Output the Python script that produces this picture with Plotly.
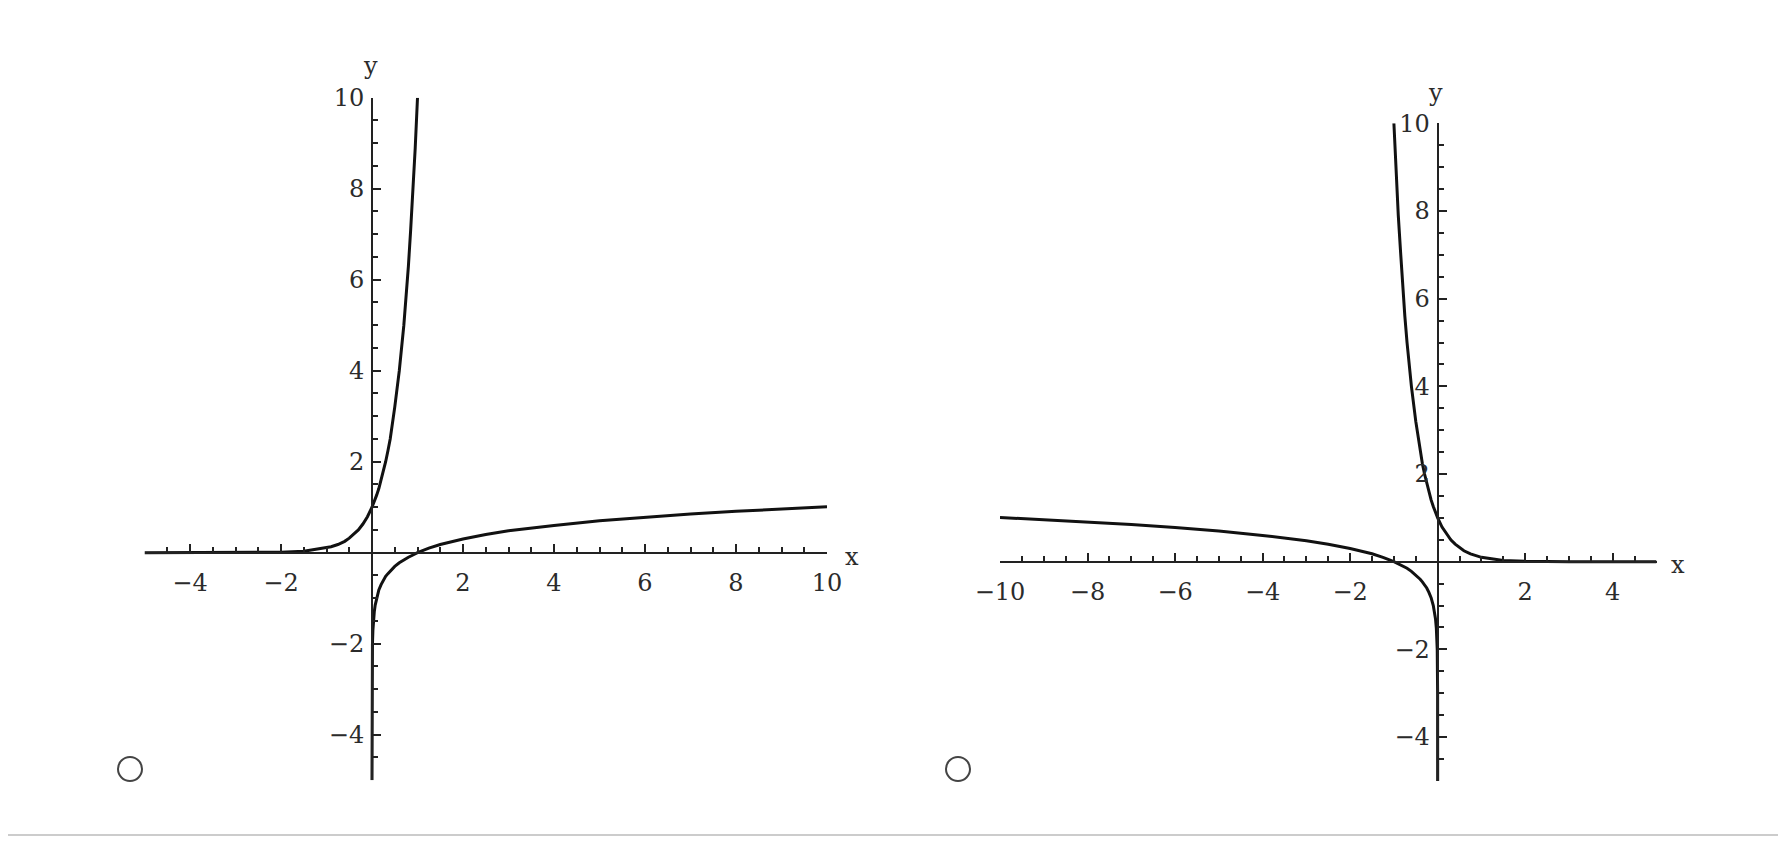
import plotly.graph_objects as go

# Left panel: exponential and logarithm curves
exp_x = [-5, -4, -3, -2, -1.5, -1, -0.9, -0.75, -0.6, -0.5, -0.4, -0.3, -0.2, -0.1, 0,
         0.05, 0.1, 0.15, 0.2, 0.25, 0.3, 0.35, 0.4, 0.5, 0.6, 0.7, 0.75, 0.8, 0.85,
         0.9, 0.95, 1.0]
exp_y = [0.0, 0.0, 0.0, 0.01, 0.03, 0.1, 0.13, 0.18, 0.25, 0.32, 0.4, 0.5, 0.63, 0.79, 1.0,
         1.12, 1.26, 1.41, 1.6, 1.78, 2.0, 2.24, 2.5, 3.2, 4.0, 5.0, 5.6, 6.3, 7.1,
         7.9, 8.9, 10.0]
log_x = [0.00001, 0.0001, 0.001, 0.01, 0.02, 0.03, 0.05, 0.07, 0.1, 0.15, 0.2, 0.25, 0.3,
         0.35, 0.4, 0.45, 0.5, 0.6, 0.7, 0.8, 0.9, 1.0, 1.25, 1.5, 2, 2.5, 3, 4, 5, 6, 7,
         8, 9, 10]
log_y = [-5, -4, -3, -2, -1.7, -1.52, -1.3, -1.15, -1.0, -0.82, -0.7, -0.6, -0.52,
         -0.46, -0.4, -0.35, -0.3, -0.22, -0.15, -0.1, -0.05, 0, 0.1, 0.18, 0.3, 0.4,
         0.48, 0.6, 0.7, 0.78, 0.85, 0.91, 0.96, 1.01]

# Right panel: the mirrored pair
exp2_x = [-1.0, -0.95, -0.9, -0.85, -0.8, -0.75, -0.7, -0.6, -0.5, -0.4, -0.35, -0.3,
          -0.25, -0.2, -0.15, -0.1, -0.05, 0, 0.1, 0.2, 0.3, 0.4, 0.5, 0.6, 0.75, 0.9,
          1, 1.5, 2, 3, 4, 5]
exp2_y = [10.0, 8.9, 7.9, 7.1, 6.3, 5.6, 5.0, 4.0, 3.2, 2.5, 2.24, 2.0,
          1.78, 1.6, 1.41, 1.26, 1.12, 1.0, 0.79, 0.63, 0.5, 0.4, 0.32, 0.25, 0.18, 0.13,
          0.1, 0.03, 0.01, 0.0, 0.0, 0.0]
log2_x = [-10, -9, -8, -7, -6, -5, -4, -3, -2.5, -2, -1.5, -1.25, -1.0, -0.9, -0.8,
          -0.7, -0.6, -0.5, -0.45, -0.4, -0.35, -0.3, -0.25, -0.2, -0.15, -0.1, -0.07,
          -0.05, -0.03, -0.02, -0.01, -0.001, -0.0001, -0.00001]
log2_y = [1.01, 0.96, 0.91, 0.85, 0.78, 0.7, 0.6, 0.48, 0.4, 0.3, 0.18, 0.1, 0, -0.05,
          -0.1, -0.15, -0.22, -0.3, -0.35, -0.4, -0.46, -0.52, -0.6, -0.7, -0.82, -1.0,
          -1.15, -1.3, -1.52, -1.7, -2, -3, -4, -5]

left_xticks = [-4, -2, 2, 4, 6, 8, 10]
left_yticks = [-4, -2, 2, 4, 6, 8, 10]
right_xticks = [-10, -8, -6, -4, -2, 2, 4]
right_yticks = [-4, -2, 2, 4, 6, 8, 10]

W, H = 1770, 836   # page has an 8px body margin
FONT = "DejaVu Serif"
INK = "#222"
TXT = "#2b2b2b"


def xp(px):
    return (px - 8) / W


def yp(py):
    return 1 - (py - 8) / H


fig = go.Figure()

curve = dict(color="#111", width=3)
fig.add_trace(go.Scatter(x=exp_x, y=exp_y, mode="lines", line=curve, xaxis="x", yaxis="y"))
fig.add_trace(go.Scatter(x=log_x, y=log_y, mode="lines", line=curve, xaxis="x", yaxis="y"))
fig.add_trace(go.Scatter(x=exp2_x, y=exp2_y, mode="lines", line=curve, xaxis="x2", yaxis="y2"))
fig.add_trace(go.Scatter(x=log2_x, y=log2_y, mode="lines", line=curve, xaxis="x2", yaxis="y2"))


def axis(rng, dom, pos, ticks, is_x):
    return dict(
        range=rng, domain=dom, anchor="free", position=pos, automargin=False,
        showline=True, linecolor=INK, linewidth=2,
        showgrid=False, zeroline=False,
        tickmode="array", tickvals=ticks,
        ticks="inside", ticklen=8, tickwidth=2, tickcolor=INK,
        ticklabelstandoff=8 if is_x else 2,
        minor=dict(dtick=0.5, tick0=0, ticks="inside", ticklen=5, tickwidth=1.5,
                   tickcolor=INK, showgrid=False),
        tickfont=dict(family=FONT, size=24, color=TXT),
        fixedrange=True,
    )


# left panel geometry (page pixels)
lx = [xp(144.5), xp(827)]
ly = [yp(780.2), yp(97.7)]
# right panel geometry
rx = [xp(1000), xp(1656.5)]
ry = [yp(780.9), yp(123.3)]

fig.update_layout(
    width=W, height=H,
    margin=dict(l=0, r=0, t=0, b=0, pad=0, autoexpand=False),
    paper_bgcolor="white", plot_bgcolor="rgba(0,0,0,0)",
    showlegend=False,
    xaxis=axis([-5, 10], lx, ly[0] + (ly[1] - ly[0]) / 3, left_xticks, True),
    yaxis=axis([-5, 10], ly, lx[0] + (lx[1] - lx[0]) / 3, left_yticks, False),
    xaxis2=axis([-10, 5], rx, ry[0] + (ry[1] - ry[0]) / 3, right_xticks, True),
    yaxis2=axis([-5, 10], ry, rx[0] + (rx[1] - rx[0]) * 2 / 3, right_yticks, False),
)

lab = dict(family=FONT, size=24, color=TXT)
for txt, px, py in [("x", 852, 557), ("y", 370, 66), ("x", 1678, 565), ("y", 1435, 93)]:
    fig.add_annotation(x=xp(px), y=yp(py), xref="paper", yref="paper", text=txt,
                       showarrow=False, font=lab, xanchor="center", yanchor="middle")

# answer-choice radio circles and the separator line
for cx, cy in [(130, 769), (958, 769)]:
    fig.add_shape(type="circle", xref="paper", yref="paper",
                  x0=xp(cx - 12), x1=xp(cx + 12), y0=yp(cy + 12), y1=yp(cy - 12),
                  line=dict(color="#444", width=2))
fig.add_shape(type="line", xref="paper", yref="paper", x0=0, x1=1, y0=yp(835), y1=yp(835),
              line=dict(color="#ccc", width=2))

fig.write_html("out.html")
